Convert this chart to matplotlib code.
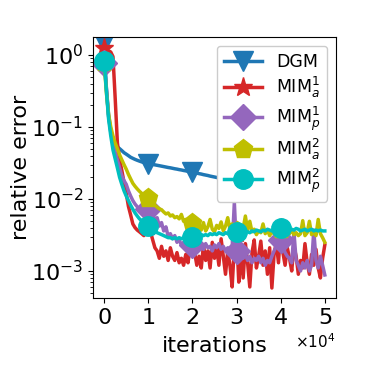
import numpy as np
import matplotlib
matplotlib.use("Agg")
import matplotlib.pyplot as plt

# iteration grid (every 500 iterations)
iterations = np.arange(0, 50001, 500)

dgm = [1.45, 0.35, 0.14, 0.085, 0.065, 0.058, 0.053, 0.050, 0.047, 0.044,
       0.042, 0.040, 0.038, 0.0367, 0.0355, 0.0345, 0.0336, 0.0328, 0.032, 0.0314,
       0.031, 0.0306, 0.0302, 0.0298, 0.0294, 0.029, 0.0286, 0.0282, 0.0278, 0.0274,
       0.0271, 0.0267, 0.0263, 0.026, 0.0256, 0.0253, 0.0249, 0.0246, 0.0242, 0.0239,
       0.0236, 0.0232, 0.0229, 0.0225, 0.0222, 0.0218, 0.0215, 0.0212, 0.0208, 0.0205,
       0.0202, 0.0199, 0.0196, 0.0194, 0.0191, 0.0189, 0.0186, 0.0184, 0.0182, 0.0179,
       0.0177, 0.0175, 0.0173, 0.0171, 0.0169, 0.0167, 0.0165, 0.0163, 0.0161, 0.0159,
       0.0157, 0.0155, 0.0153, 0.0152, 0.015, 0.0148, 0.0147, 0.0145, 0.0144, 0.0142,
       0.0141, 0.0139, 0.0138, 0.0137, 0.0135, 0.0134, 0.0133, 0.0131, 0.013, 0.0129,
       0.0128, 0.0127, 0.0126, 0.0124, 0.0123, 0.0122, 0.0121, 0.012, 0.0119, 0.0118,
       0.0117]

mim1_a = [1.25, 1.2, 1.15, 1.1, 0.95, 0.25, 0.06, 0.035, 0.025, 0.017,
          0.012, 0.0079, 0.006, 0.0045, 0.004, 0.0037, 0.0035, 0.0033, 0.0031, 0.0035,
          0.0042, 0.0035, 0.0027, 0.0021, 0.0019, 0.0015, 0.0022, 0.0016, 0.0019, 0.0014,
          0.0021, 0.0016, 0.0014, 0.0018, 0.0013, 0.0015, 0.0012, 0.0017, 0.0013, 0.0022,
          0.003, 0.0018, 0.0012, 0.0016, 0.0011, 0.0023, 0.0014, 0.0019, 0.0011, 0.0025,
          0.0015, 0.0021, 0.0012, 0.0028, 0.0016, 0.0009, 0.0019, 0.0012, 0.0006, 0.0022,
          0.0034, 0.0007, 0.0017, 0.0008, 0.0024, 0.0013, 0.0006, 0.0018, 0.0027, 0.0011,
          0.0016, 0.0026, 0.0012, 0.0019, 0.0009, 0.0021, 0.00058, 0.0017, 0.0025, 0.0013,
          0.0039, 0.0018, 0.0012, 0.0021, 0.0015, 0.001, 0.0022, 0.0016, 0.0009, 0.0014,
          0.0011, 0.0024, 0.0013, 0.0009, 0.0017, 0.0012, 0.002, 0.0011, 0.0008, 0.0015,
          0.0023]

mim1_p = [0.77, 0.35, 0.15, 0.09, 0.06, 0.045, 0.035, 0.027, 0.021, 0.018,
          0.016, 0.013, 0.011, 0.0095, 0.0085, 0.0078, 0.0072, 0.007, 0.0068, 0.007,
          0.0072, 0.006, 0.0065, 0.0048, 0.0055, 0.0042, 0.0047, 0.0036, 0.0041, 0.003,
          0.0033, 0.0028, 0.0031, 0.0025, 0.0027, 0.0023, 0.0025, 0.0022, 0.0024, 0.0021,
          0.0023, 0.0022, 0.0025, 0.0021, 0.0023, 0.002, 0.0024, 0.0021, 0.0022, 0.0019,
          0.0023, 0.0021, 0.0024, 0.002, 0.0022, 0.0019, 0.0021, 0.0018, 0.0021, 0.009,
          0.0019, 0.0017, 0.0018, 0.0015, 0.0017, 0.0014, 0.0016, 0.0013, 0.0015, 0.0014,
          0.0016, 0.0013, 0.0015, 0.0012, 0.0014, 0.0013, 0.0016, 0.0019, 0.0022, 0.0026,
          0.0027, 0.0022, 0.0018, 0.0016, 0.0015, 0.0013, 0.0035, 0.0014, 0.0012, 0.001,
          0.0013, 0.0011, 0.0014, 0.001, 0.0012, 0.0037, 0.0014, 0.0011, 0.0016, 0.0012,
          0.00088]

mim2_a = [0.8, 0.3, 0.15, 0.1, 0.075, 0.06, 0.05, 0.041, 0.035, 0.03,
          0.026, 0.022, 0.019, 0.0165, 0.015, 0.0138, 0.0128, 0.012, 0.0113, 0.0107,
          0.0103, 0.0095, 0.0088, 0.0082, 0.0077, 0.0073, 0.0071, 0.0066, 0.0062, 0.0064,
          0.0058, 0.006, 0.0055, 0.0057, 0.0053, 0.0061, 0.0049, 0.0052, 0.0047, 0.005,
          0.0046, 0.0042, 0.0038, 0.0044, 0.0037, 0.0047, 0.0036, 0.0041, 0.0052, 0.0038,
          0.0035, 0.0043, 0.0039, 0.0048, 0.0036, 0.0042, 0.0055, 0.0038, 0.0045, 0.0037,
          0.0036, 0.0041, 0.0034, 0.0039, 0.0058, 0.0037, 0.0049, 0.0035, 0.0038, 0.0032,
          0.0036, 0.0034, 0.0045, 0.0033, 0.0037, 0.0031, 0.0035, 0.0033, 0.0036, 0.0032,
          0.0038, 0.0034, 0.0031, 0.0035, 0.0033, 0.0037, 0.0032, 0.0034, 0.0031, 0.0033,
          0.005, 0.0031, 0.0034, 0.0049, 0.0032, 0.0035, 0.0031, 0.0052, 0.0033, 0.0029,
          0.0025]

mim2_p = [0.83, 0.32, 0.13, 0.075, 0.048, 0.036, 0.027, 0.02, 0.016, 0.013,
          0.011, 0.0095, 0.0082, 0.0072, 0.0064, 0.0058, 0.0053, 0.005, 0.0047, 0.0044,
          0.0042, 0.0039, 0.0037, 0.0035, 0.0034, 0.0033, 0.0032, 0.0031, 0.003, 0.0029,
          0.0029, 0.0028, 0.0029, 0.0028, 0.0029, 0.0028, 0.0029, 0.003, 0.0029, 0.003,
          0.003, 0.0031, 0.003, 0.0031, 0.0032, 0.0031, 0.0032, 0.0031, 0.0033, 0.0032,
          0.0033, 0.0032, 0.0034, 0.0033, 0.0032, 0.0034, 0.0033, 0.0032, 0.0034, 0.0033,
          0.0035, 0.0034, 0.0035, 0.0034, 0.0036, 0.0035, 0.0034, 0.0036, 0.0035, 0.0037,
          0.0036, 0.0035, 0.0037, 0.0036, 0.0038, 0.0037, 0.0036, 0.0038, 0.0037, 0.0038,
          0.004, 0.0037, 0.0039, 0.0038, 0.0036, 0.0038, 0.0037, 0.0039, 0.0038, 0.0036,
          0.0037, 0.0038, 0.0036, 0.0037, 0.0038, 0.0036, 0.0037, 0.0036, 0.0037, 0.0036,
          0.0036]

labels = ["DGM", r"MIM$^1_a$", r"MIM$^1_p$", r"MIM$^2_a$", r"MIM$^2_p$"]
series = [dgm, mim1_a, mim1_p, mim2_a, mim2_p]
colors = ["#1f77b4", "#d62728", "#9467bd", "#bfbf00", "#00bfbf"]
markers = ["v", "*", "D", "p", "o"]
sizes = [14, 14, 13, 14, 14]

fig = plt.figure(figsize=(3.74, 3.74), dpi=100)
ax = fig.add_axes([0.249, 0.203, 0.649, 0.698])

for y, lab, c, m, s in zip(series, labels, colors, markers, sizes):
    ax.plot(iterations, y, color=c, marker=m, markersize=s, lw=2.5,
            markevery=[0, 20, 40, 60, 80], label=lab)

ax.set_yscale("log")
ax.set_ylim(4.2e-4, 1.78)
ax.set_xlim(-2500, 52500)
ax.set_xticks([0, 10000, 20000, 30000, 40000, 50000])
ax.ticklabel_format(axis="x", style="sci", scilimits=(0, 0), useMathText=True)
ax.xaxis.get_offset_text().set_fontsize(11)
ax.tick_params(labelsize=16)
ax.set_xlabel("iterations", fontsize=16, labelpad=6)
ax.set_ylabel("relative error", fontsize=16, labelpad=0)
leg = ax.legend(loc="upper right", fontsize=12.5, framealpha=1,
                labelspacing=0.25, handlelength=2.2, borderpad=0.4)

fig.savefig("out.png", dpi=100)
